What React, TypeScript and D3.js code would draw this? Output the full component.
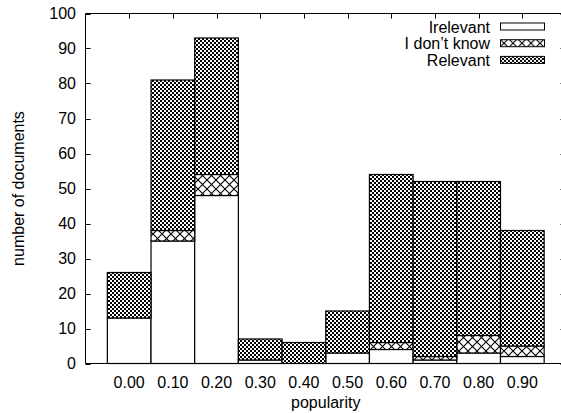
import React, { useEffect, useRef } from 'react';
import * as d3 from 'd3';

const categories = ["0.00", "0.10", "0.20", "0.30", "0.40", "0.50", "0.60", "0.70", "0.80", "0.90"];
const irrelevant = [13, 35, 48, 1, 0, 3, 4, 1, 3, 2];
const dontKnow = [0, 3, 6, 0, 0, 0, 2, 1, 5, 3];
const relevant = [13, 43, 39, 6, 6, 12, 48, 50, 44, 33];
const seriesNames = ["Irelevant", "I don\u2019t know", "Relevant"];
const yTicks = [0, 10, 20, 30, 40, 50, 60, 70, 80, 90, 100];

function StackedHistogram() {
  const svgRef = useRef<SVGSVGElement>(null);

  useEffect(() => {
    const width = 561;
    const height = 413;
    const left = 85.5;
    const right = 566;
    const top = 13.5;
    const bottom = 363.5;
    const font = "'Liberation Sans', Arial, Helvetica, sans-serif";
    const fs = "16px";

    const svg = d3.select(svgRef.current)
      .attr("width", width)
      .attr("height", height);
    svg.selectAll("*").remove();

    const defs = svg.append("defs");
    // sparse cross hatch
    const p1 = defs.append("pattern")
      .attr("id", "hatch1")
      .attr("patternUnits", "userSpaceOnUse")
      .attr("width", 9)
      .attr("height", 9);
    p1.append("rect").attr("width", 9).attr("height", 9).attr("fill", "#fff");
    p1.append("path")
      .attr("d", "M0,0L9,9M9,0L0,9")
      .attr("stroke", "#000")
      .attr("stroke-width", 1.1);
    // dense cross hatch (renders as a fine checker)
    const p2 = defs.append("pattern")
      .attr("id", "hatch2")
      .attr("patternUnits", "userSpaceOnUse")
      .attr("width", 4)
      .attr("height", 4);
    p2.append("rect").attr("width", 4).attr("height", 4).attr("fill", "#fff");
    p2.append("path")
      .attr("d", "M0,0h2v2h-2zM2,2h2v2h-2z")
      .attr("fill", "#000")
      .attr("shape-rendering", "crispEdges");

    const fills = ["#fff", "url(#hatch1)", "url(#hatch2)"];

    const x = d3.scaleLinear().domain([-1, 10]).range([left, right]);
    const y = d3.scaleLinear().domain([0, 100]).range([bottom, top]);

    const rows = categories.map((c, i) => ({
      cat: c,
      irr: irrelevant[i],
      idk: dontKnow[i],
      rel: relevant[i],
    }));
    const stack = d3.stack<any>().keys(["irr", "idk", "rel"]);
    const stacked = stack(rows);

    // ticks
    const tickG = svg.append("g").attr("stroke", "#000").attr("stroke-width", 1);
    yTicks.forEach((t) => {
      const yy = Math.round(y(t)) + 0.5;
      tickG.append("line").attr("x1", left).attr("x2", left + 5).attr("y1", yy).attr("y2", yy);
      tickG.append("line").attr("x1", right - 5.5).attr("x2", right).attr("y1", yy).attr("y2", yy);
    });
    categories.forEach((c, i) => {
      const xx = Math.round(x(i)) + 0.5;
      tickG.append("line").attr("x1", xx).attr("x2", xx).attr("y1", top).attr("y2", top + 5);
      tickG.append("line").attr("x1", xx).attr("x2", xx).attr("y1", bottom).attr("y2", bottom - 5);
    });

    // bars
    stacked.forEach((layer, k) => {
      svg.append("g")
        .selectAll("rect")
        .data(layer.filter((d) => d[1] - d[0] > 0))
        .enter()
        .append("rect")
        .attr("x", (d) => x(categories.indexOf(d.data.cat) - 0.5))
        .attr("width", x(0.5) - x(-0.5))
        .attr("y", (d) => y(d[1]))
        .attr("height", (d) => y(d[0]) - y(d[1]))
        .attr("fill", fills[k])
        .attr("stroke", "#000")
        .attr("stroke-width", 1.2);
    });

    // border
    svg.append("path")
      .attr("d", `M${right},${top}H${left}V${bottom}H${right}V${top}`)
      .attr("fill", "none")
      .attr("stroke", "#000")
      .attr("stroke-width", 1);

    // tick labels
    svg.append("g")
      .selectAll("text")
      .data(yTicks)
      .enter()
      .append("text")
      .attr("x", 76)
      .attr("y", (d) => y(d) + 5.5)
      .attr("text-anchor", "end")
      .style("font-family", font)
      .style("font-size", fs)
      .text((d) => d);

    svg.append("g")
      .selectAll("text")
      .data(categories)
      .enter()
      .append("text")
      .attr("x", (d, i) => x(i))
      .attr("y", 388)
      .attr("text-anchor", "middle")
      .style("font-family", font)
      .style("font-size", fs)
      .text((d) => d);

    svg.append("text")
      .attr("x", (left + right) / 2)
      .attr("y", 408)
      .attr("text-anchor", "middle")
      .style("font-family", font)
      .style("font-size", fs)
      .text("popularity");

    svg.append("text")
      .attr("transform", `translate(24,${(top + bottom) / 2}) rotate(-90)`)
      .attr("text-anchor", "middle")
      .style("font-family", font)
      .style("font-size", fs)
      .text("number of documents");

    // legend
    const legend = svg.selectAll(".legend")
      .data(seriesNames)
      .enter()
      .append("g")
      .attr("class", "legend")
      .attr("transform", (d, i) => `translate(0, ${26.5 + i * 16.7})`);

    legend.append("rect")
      .attr("x", 500.5)
      .attr("y", -3.5)
      .attr("width", 44)
      .attr("height", 7)
      .attr("fill", (d, i) => fills[i])
      .attr("stroke", "#000")
      .attr("stroke-width", 1);

    legend.append("text")
      .attr("x", 490)
      .attr("y", 6)
      .attr("text-anchor", "end")
      .style("font-family", font)
      .style("font-size", fs)
      .text((d) => d);
  }, []);

  return <svg ref={svgRef} style={{ position: 'absolute', left: 0, top: 0 }}></svg>;
}

export default function App() {
  return <StackedHistogram />;
}
